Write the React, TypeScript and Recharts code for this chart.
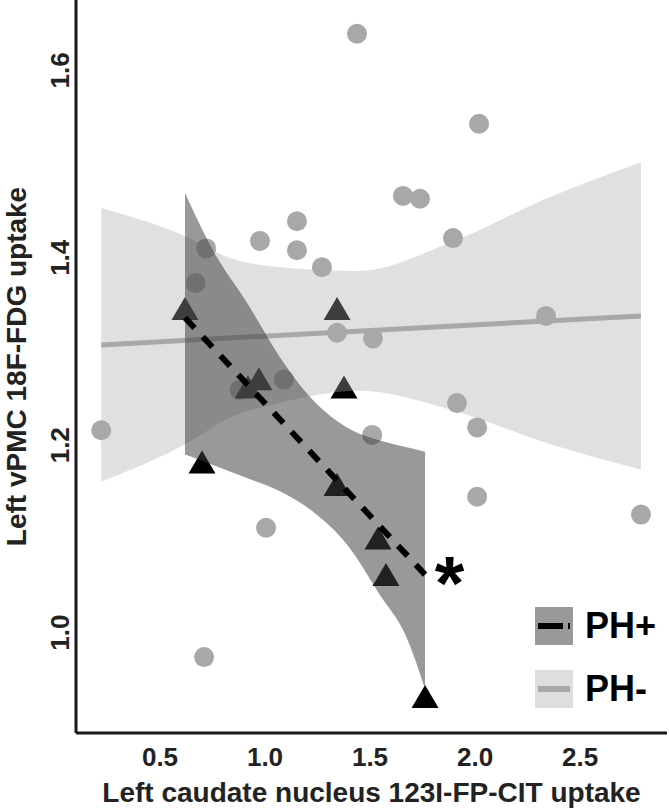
import React from 'react';
import { ComposedChart, Scatter, Area, Line, XAxis, YAxis, ReferenceDot } from 'recharts';

const FONT = '"Liberation Sans", Arial, sans-serif';

// PH- patients (grey circles)
const phMinusX = [0.22, 0.71, 0.72, 0.67, 0.976, 1.152, 1.152, 1.271, 1.343, 1.514, 1.09, 0.88, 1.51, 1.438, 2.019, 1.657, 1.738, 1.895, 1.914, 2.01, 2.01, 1.005, 2.338, 2.79];
const phMinusY = [1.216, 0.974, 1.41, 1.373, 1.418, 1.439, 1.408, 1.39, 1.32, 1.314, 1.27, 1.259, 1.211, 1.639, 1.543, 1.466, 1.463, 1.421, 1.245, 1.219, 1.145, 1.112, 1.338, 1.126];

// PH+ patients (black triangles)
const phPlusX = [0.619, 1.343, 0.971, 0.919, 1.376, 0.7, 1.343, 1.538, 1.576, 1.762];
const phPlusY = [1.346, 1.346, 1.271, 1.262, 1.262, 1.182, 1.158, 1.101, 1.062, 0.932];

// linear fits
const phMinusFitX = [0.22, 2.79];
const phMinusFitY = [1.307, 1.338];
const phPlusFitX = [0.619, 1.762];
const phPlusFitY = [1.336, 1.062];

// confidence bands
const phMinusBandX = [0.22, 0.62, 0.83, 1.07, 1.45, 1.88, 2.36, 2.79];
const phMinusBandLow = [1.161, 1.201, 1.229, 1.245, 1.258, 1.238, 1.201, 1.174];
const phMinusBandHigh = [1.453, 1.423, 1.4, 1.39, 1.386, 1.416, 1.465, 1.502];

const phPlusBandX = [0.619, 0.752, 0.914, 1.071, 1.229, 1.39, 1.548, 1.67, 1.762];
const phPlusBandLow = [1.19, 1.179, 1.165, 1.151, 1.129, 1.094, 1.04, 0.997, 0.94];
const phPlusBandHigh = [1.469, 1.408, 1.352, 1.294, 1.248, 1.219, 1.205, 1.198, 1.193];

const xTicks = [0.5, 1.0, 1.5, 2.0, 2.5];
const yTicks = [1.0, 1.2, 1.4, 1.6];

const zip = (xs: number[], ys: number[]) => xs.map((x, i) => ({ x, y: ys[i] }));
const band = (xs: number[], lo: number[], hi: number[]) => xs.map((x, i) => ({ x, band: [lo[i], hi[i]] }));

const phMinusData = zip(phMinusX, phMinusY);
const phPlusData = zip(phPlusX, phPlusY);
const phMinusFit = zip(phMinusFitX, phMinusFitY);
const phPlusFit = zip(phPlusFitX, phPlusFitY);
const phMinusBand = band(phMinusBandX, phMinusBandLow, phMinusBandHigh);
const phPlusBand = band(phPlusBandX, phPlusBandLow, phPlusBandHigh);

const Circle = (p: any) => <circle cx={p.cx} cy={p.cy} r={10} fill="#a8a8a8" />;

const Triangle = (p: any) => {
  const { cx, cy } = p;
  return <polygon points={`${cx - 13.5},${cy + 11.5} ${cx + 13.5},${cy + 11.5} ${cx},${cy - 11.5}`} fill="#000" />;
};

const YTick = ({ x, y, payload }: any) => (
  <g transform={`translate(${x + 1},${y}) rotate(-90)`}>
    <text textAnchor="middle" fontSize={26} fontWeight="bold" fill="#222" fontFamily={FONT}>
      {Number(payload.value).toFixed(1)}
    </text>
  </g>
);

const YTitle = ({ viewBox }: any) => (
  <text
    transform={`translate(${viewBox.x + 26},${viewBox.y + viewBox.height / 2}) rotate(-90)`}
    textAnchor="middle" fontSize={28} fontWeight="bold" fill="#222" fontFamily={FONT}
  >
    Left vPMC 18F-FDG uptake
  </text>
);

const XTitle = ({ viewBox }: any) => (
  <text
    x={viewBox.x + viewBox.width / 2} y={viewBox.y + viewBox.height - 9}
    textAnchor="middle" fontSize={28} fontWeight="bold" fill="#222" fontFamily={FONT}
  >
    Left caudate nucleus 123I-FP-CIT uptake
  </text>
);

const Star = (p: any) => (
  <text x={p.cx} y={p.cy + 42} textAnchor="middle" fontSize={76} fontWeight="bold" fill="#000" fontFamily={FONT}>*</text>
);

const legendRow = { display: 'flex', alignItems: 'center', height: 38 } as const;
const legendText = { marginLeft: 12, fontSize: 36, fontWeight: 'bold', fontFamily: FONT, color: '#000', lineHeight: '38px' } as const;

export default function App() {
  return (
    <div style={{ position: 'absolute', left: 0, top: 0, width: 669, height: 811, background: '#fff' }}>
      <ComposedChart width={669} height={811} margin={{ top: 0, right: 2, bottom: 0, left: 0 }}>
        <XAxis
          type="number" dataKey="x" domain={[0.1, 2.914]} ticks={xTicks} allowDataOverflow
          tickFormatter={(v: number) => v.toFixed(1)} height={78}
          axisLine={{ stroke: '#1a1a1a', strokeWidth: 3 }} tickLine={false} tickSize={6} tickMargin={9}
          tick={{ fontSize: 26, fontWeight: 'bold', fill: '#222', fontFamily: FONT }}
          label={{ content: XTitle }}
        />
        <YAxis
          type="number" domain={[0.893, 1.675]} ticks={yTicks} allowDataOverflow width={76}
          axisLine={{ stroke: '#1a1a1a', strokeWidth: 3 }} tickLine={false} tickSize={6} tickMargin={2}
          tick={YTick} label={{ content: YTitle }}
        />
        <Scatter data={phMinusData} dataKey="y" shape={Circle} isAnimationActive={false} zIndex={10} />
        <Scatter data={phPlusData} dataKey="y" shape={Triangle} isAnimationActive={false} zIndex={11} />
        <Area data={phMinusBand} dataKey="band" type="monotone" stroke="none" fill="#a8a8a8" fillOpacity={0.36} isAnimationActive={false} zIndex={20} />
        <Line data={phMinusFit} dataKey="y" stroke="#a8a8a8" strokeWidth={5} dot={false} isAnimationActive={false} zIndex={21} />
        <Area data={phPlusBand} dataKey="band" type="monotone" stroke="none" fill="#3e3e3e" fillOpacity={0.53} isAnimationActive={false} zIndex={22} />
        <Line data={phPlusFit} dataKey="y" stroke="#000" strokeWidth={6} strokeDasharray="14 12" dot={false} isAnimationActive={false} zIndex={23} />
        <ReferenceDot x={1.878} y={1.07} r={0} shape={Star} zIndex={24} />
      </ComposedChart>
      <div style={{ position: 'absolute', left: 535, top: 607 }}>
        <div style={legendRow}>
          <svg width={38} height={38}>
            <rect width={38} height={38} fill="#999" />
            <line x1={3} x2={35} y1={19} y2={19} stroke="#000" strokeWidth={6} strokeDasharray="25 5" />
          </svg>
          <span style={legendText}>PH+</span>
        </div>
        <div style={{ ...legendRow, marginTop: 25 }}>
          <svg width={38} height={38}>
            <rect width={38} height={38} fill="#dedede" />
            <line x1={3} x2={35} y1={19} y2={19} stroke="#a8a8a8" strokeWidth={6} />
          </svg>
          <span style={legendText}>PH-</span>
        </div>
      </div>
    </div>
  );
}
